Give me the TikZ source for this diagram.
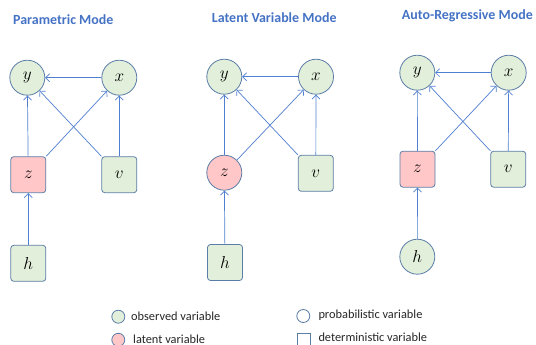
\documentclass[tikz,border=0pt]{standalone}
\usepackage{fontspec}
\setmainfont{Carlito}
\usetikzlibrary{arrows.meta}
\definecolor{ttl}{HTML}{4472C4}
\definecolor{arr}{HTML}{4F7FD0}
\definecolor{bord}{HTML}{5B7DA8}
\definecolor{obs}{HTML}{E2EFDA}
\definecolor{lat}{HTML}{FFC7C7}
\tikzset{
  var/.style={draw=bord, line width=0.8bp, inner sep=0pt, font=\fontsize{16}{16}\selectfont},
  cvar/.style={var, circle, minimum size=35bp},
  bvar/.style={var, rectangle, rounded corners=3bp, minimum width=35bp, minimum height=36bp},
  ob/.style={fill=obs},
  la/.style={fill=lat},
  edge/.style={draw=arr, line width=0.7bp, -{Straight Barb[length=4bp,width=8bp]}},
  title/.style={font=\fontsize{14}{14}\selectfont\bfseries, text=ttl, anchor=west, inner sep=0pt},
  legtxt/.style={font=\fontsize{12.4}{12.4}\selectfont, text=black!85, anchor=west, inner sep=0pt},
  legc/.style={draw=bord, line width=0.8bp, circle, minimum size=13bp, inner sep=0pt},
  legb/.style={draw=bord, line width=0.8bp, rectangle, minimum size=12.7bp, inner sep=0pt},
}
\begin{document}
\begin{tikzpicture}[x=1bp,y=-1bp]
\useasboundingbox (0,0) rectangle (536,344);
% titles
\node[title] (t1) at (13,20) {Parametric Mode};
\node[title] (t2) at (211.7,17.3) {Latent Variable Mode};
\node[title] (t3) at (401.7,16) {Auto-Regressive Mode};
% panel 1
\node[cvar,ob] (y1) at (27.3,77.7) {$y$};
\node[cvar,ob] (x1) at (119.3,77.7) {$x$};
\node[bvar,la] (z1) at (28.3,174.7) {$z$};
\node[bvar,ob] (v1) at (119.3,174.7) {$v$};
\node[bvar,ob] (h1) at (28.3,263.3) {$h$};
\draw[edge] (x1) -- (y1);
\draw[edge] (z1) -- (y1);
\draw[edge] (v1) -- (x1);
\draw[edge] (z1.north east) -- (x1);
\draw[edge] (v1.north west) -- (y1);
\draw[edge] (h1) -- (z1);
% panel 2
\node[cvar,ob] (y2) at (224.3,76.7) {$y$};
\node[cvar,ob] (x2) at (316,76.7) {$x$};
\node[cvar,la] (z2) at (224.3,172.7) {$z$};
\node[bvar,ob] (v2) at (315.8,173.3) {$v$};
\node[bvar,ob] (h2) at (225,262.5) {$h$};
\draw[edge] (x2) -- (y2);
\draw[edge] (z2) -- (y2);
\draw[edge] (v2) -- (x2);
\draw[edge] (z2.north east) -- (x2);
\draw[edge] (v2.north west) -- (y2);
\draw[edge] (h2) -- (z2);
% panel 3
\node[cvar,ob] (y3) at (417.3,72.7) {$y$};
\node[cvar,ob] (x3) at (508.7,72.7) {$x$};
\node[bvar,la] (z3) at (417.5,169.2) {$z$};
\node[bvar,ob] (v3) at (508.2,169.2) {$v$};
\node[cvar,ob] (h3) at (417.3,256.7) {$h$};
\draw[edge] (x3) -- (y3);
\draw[edge] (z3) -- (y3);
\draw[edge] (v3) -- (x3);
\draw[edge] (z3.north east) -- (x3);
\draw[edge] (v3.north west) -- (y3);
\draw[edge] (h3) -- (z3);
% legend
\node[legc,fill=obs] (lo) at (118.3,316.7) {};
\node[legtxt] (lot) at (131,316.7) {observed variable};
\node[legc,fill=lat] (ll) at (118.3,339.8) {};
\node[legtxt] (llt) at (133,339.5) {latent variable};
\node[legc,fill=white] (lp) at (303.3,316) {};
\node[legtxt] (lpt) at (318.3,315.5) {probabilistic variable};
\node[legb,fill=white] (ld) at (303.6,339.6) {};
\node[legtxt] (ldt) at (318.3,337.7) {deterministic variable};
\end{tikzpicture}
\end{document}
